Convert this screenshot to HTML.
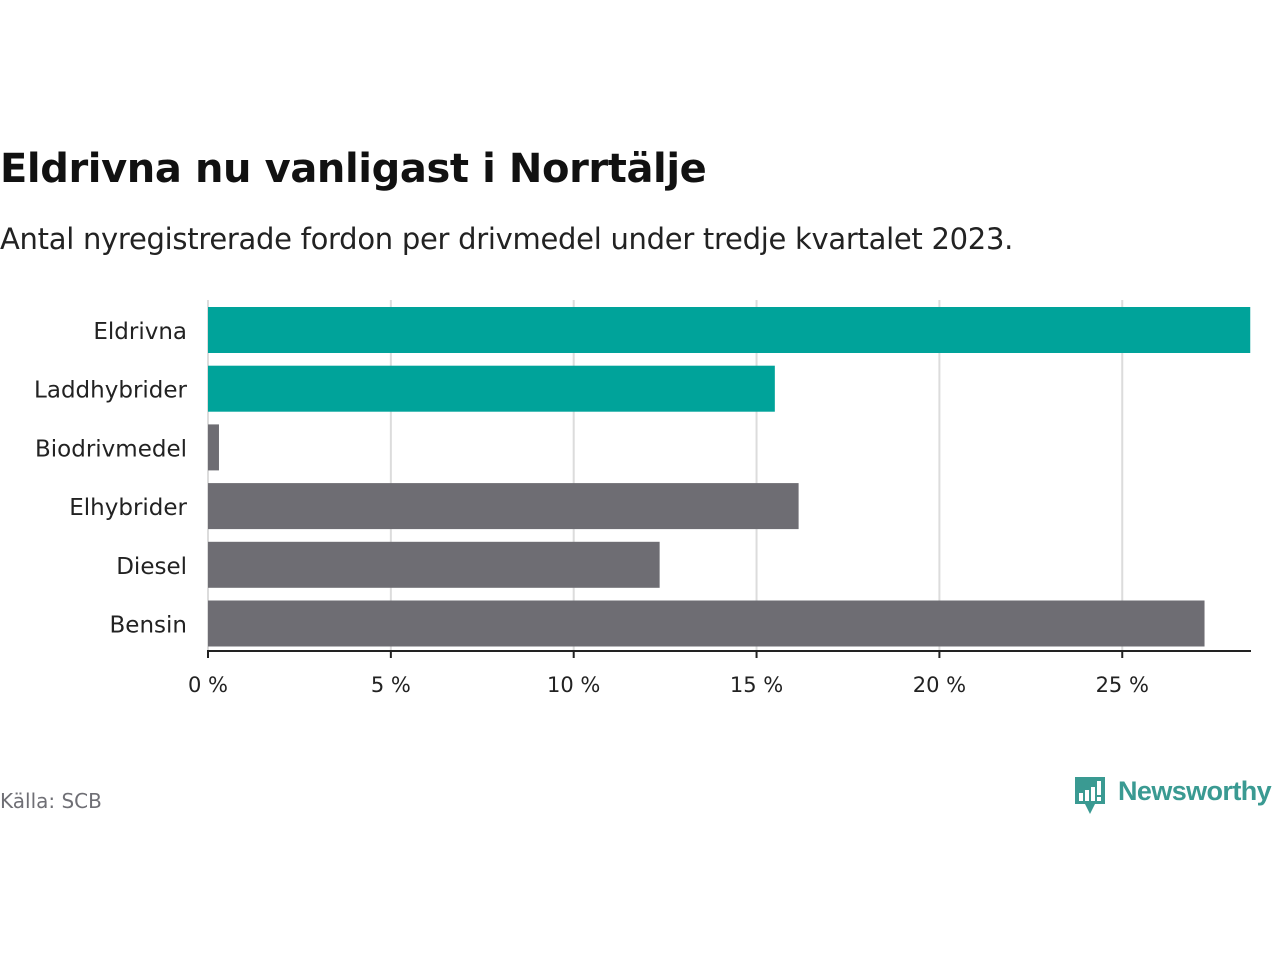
<!DOCTYPE html>
<html><head><meta charset="utf-8"><style>
body{margin:0;width:1280px;height:960px;background:#fff;font-family:"DejaVu Sans","Liberation Sans",sans-serif;overflow:hidden;position:relative}
.t{position:absolute;white-space:nowrap}
</style></head><body>
<div class="t" style="left:0;top:146px;font-size:40px;font-weight:bold;color:#111;letter-spacing:-0.4px">Eldrivna nu vanligast i Norrtälje</div>
<div class="t" style="left:0;top:222px;font-size:29px;color:#222;letter-spacing:-0.28px">Antal nyregistrerade fordon per drivmedel under tredje kvartalet 2023.</div>
<svg id="chart" width="1280" height="960" style="position:absolute;left:0;top:0"></svg>
<div class="t" style="left:0;top:789px;font-size:20px;color:#6f6f75">Källa: SCB</div>
<div style="position:absolute;left:1073px;top:777px">
<svg width="34" height="40" style="position:absolute;left:0;top:0"><path d="M2 0H32V27H22L17 37L12 27H2Z" fill="#3a9a92"/><rect x="6" y="16" width="4" height="8" fill="#fff"/><rect x="12" y="13" width="4" height="11" fill="#fff"/><rect x="18" y="10" width="4" height="14" fill="#fff"/><rect x="24" y="4" width="4" height="14" fill="#fff"/><rect x="24" y="20" width="4" height="4" fill="#fff"/></svg>
<div class="t" style="left:45px;top:-1px;font-size:27px;color:#3a9a92;font-family:'Liberation Sans',sans-serif;font-weight:bold;letter-spacing:-0.6px">Newsworthy</div></div>
<script>
const categories=["Eldrivna","Laddhybrider","Biodrivmedel","Elhybrider","Diesel","Bensin"];
const values=[28.5,15.5,0.3,16.15,12.35,27.25];
const colors=["#00a39a","#00a39a","#6e6d73","#6e6d73","#6e6d73","#6e6d73"];
const ticks=[0,5,10,15,20,25];
const tickLabels=["0 %","5 %","10 %","15 %","20 %","25 %"];
const svg=document.getElementById('chart');const NS="http://www.w3.org/2000/svg";
const x=v=>208+v*36.57;const y=i=>307+i*58.7;
function mk(t,a){const e=document.createElementNS(NS,t);for(const k in a)e.setAttribute(k,a[k]);svg.appendChild(e);return e;}
ticks.forEach((t,i)=>{
const g=mk('line',{x1:x(t),x2:x(t),y1:300,y2:651,stroke:'#dcdcdc','stroke-width':2});


const tk=mk('line',{x1:x(t),x2:x(t),y1:651,y2:658,stroke:'#222','stroke-width':2});


const l=mk('text',{x:x(t),y:692,'text-anchor':'middle','font-size':21,fill:'#222','font-family':'DejaVu Sans, Liberation Sans, sans-serif'});
l.textContent=tickLabels[i];


});
categories.forEach((c,i)=>{
const r=mk('rect',{x:x(0),y:y(i),width:x(values[i])-x(0),height:46,fill:colors[i]});


const l=mk('text',{x:187,y:y(i)+32,'text-anchor':'end','font-size':23,fill:'#222','font-family':'DejaVu Sans, Liberation Sans, sans-serif'});
l.textContent=c;


});
const ax=mk('line',{x1:207,x2:1251,y1:651,y2:651,stroke:'#222','stroke-width':2});


</script>
</body></html>
